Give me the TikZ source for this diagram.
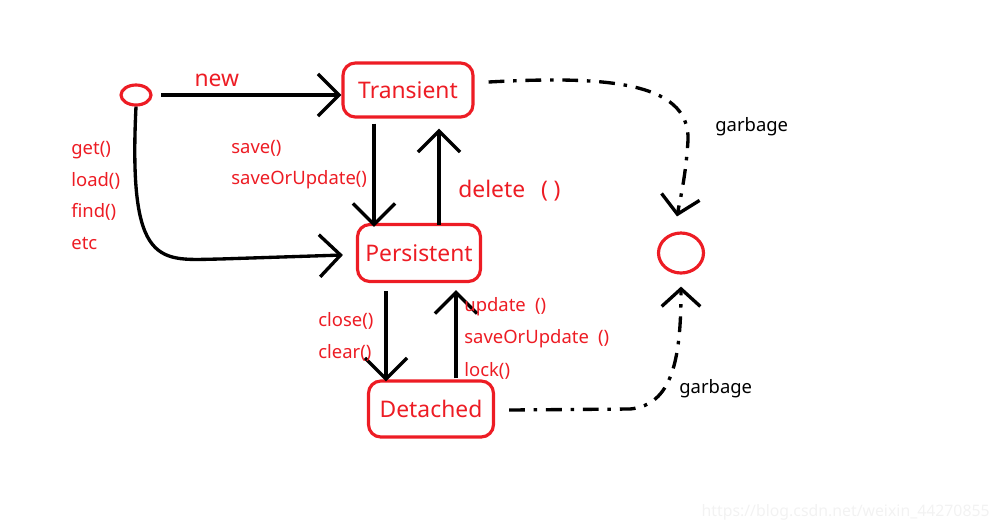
\documentclass[tikz,border=0pt]{standalone}
\usepackage{fontspec}
\setmainfont{Noto Sans}
\usetikzlibrary{positioning,calc,arrows.meta,shapes.geometric}
\definecolor{paintred}{RGB}{237,28,36}

\begin{document}
\begin{tikzpicture}[x=0.02cm,y=-0.02cm,
  state/.style ={draw=paintred,line width=1.8pt,rounded corners=7pt,text=paintred,
                 inner sep=0pt,font=\fontsize{13}{15}\selectfont},
  dot/.style   ={draw=paintred,line width=1.8pt,ellipse,inner sep=0pt},
  lbl/.style   ={text=paintred,anchor=west,inner sep=0pt,font=\fontsize{10.5}{12}\selectfont},
  note/.style  ={anchor=west,inner sep=0pt,font=\fontsize{10.5}{12}\selectfont},
  flow/.style  ={line width=1.9pt,-{Straight Barb[length=12pt,width=24pt]}},
  gc/.style    ={line width=1.9pt,dash pattern=on 9pt off 5pt on 2pt off 5pt,
                 -{Straight Barb[length=10pt,width=22pt]}}
]
  \useasboundingbox (0,0) rectangle (1000,529);

  % ----- states -----
  \node[dot,minimum width=0.6cm,minimum height=0.4cm] (start) at (136,95) {};
  \node[state,minimum width=2.6cm,minimum height=1.08cm] (trans) at (408,90) {Transient};
  \node[state,minimum width=2.46cm,minimum height=1.14cm] (pers) at (419,253) {Persistent};
  \node[state,minimum width=2.5cm,minimum height=1.12cm] (det) at (431,409) {Detached};
  \node[dot,minimum width=0.9cm,minimum height=0.8cm] (end) at (681,253) {};

  % ----- transitions -----
  \draw[flow,shorten <=5pt] (start.east) -- (start.east -| trans.west)
    node[lbl,pos=0.34,above=4pt,font=\fontsize{13}{15}\selectfont] {new};
  \draw[flow] (start.south) .. controls (128,270) and (160,260) .. (220,259)
    -- ($(pers.west)+(-13,2)$);
  \draw[flow] ($(trans.south)+(-34,5)$) -- ($(pers.north)+(-45,4)$);
  \draw[flow] ($(pers.north)+(20,2)$) -- ($(trans.south)+(31,10)$);
  \draw[flow] ($(pers.south)+(-33,8)$) -- ($(det.north)+(-45,2)$);
  \draw[flow] ($(det.north)+(25,-1)$) -- ($(pers.south)+(37,7)$);

  % ----- garbage -----
  \draw[gc] ($(trans.east)+(14,-8)$) .. controls (600,76) and (690,80) .. (688,140)
    .. controls (686,175) and (680,200) .. ($(end.north)+(-4,-15)$);
  \draw[gc] ($(det.east)+(14,1)$) -- (630,409) .. controls (672,405) and (681,360)
    .. ($(end.south)+(0,12)$);
  \node[note] (g1) at (715,127) {garbage};
  \node[note] (g2) at (679,389) {garbage};

  % ----- labels -----
  \node[lbl] (l1) at (71,150) {get()};
  \node[lbl] (l2) at (71,181) {load()};
  \node[lbl] (l3) at (71,212) {find()};
  \node[lbl] (l4) at (71,244) {etc};
  \node[lbl] (s1) at (231,148) {save()};
  \node[lbl] (s2) at (231,180) {saveOrUpdate()};
  \node[lbl,font=\fontsize{13}{15}\selectfont] (d1) at (458,191) {delete\hspace{0.7em}(\hspace{0.25em})};
  \node[lbl] (c1) at (318,321) {close()};
  \node[lbl] (c2) at (318,353) {clear()};
  \node[lbl] (u1) at (464,307) {update\hspace{0.5em}()};
  \node[lbl] (u2) at (464,339) {saveOrUpdate\hspace{0.5em}()};
  \node[lbl] (u3) at (464,371) {lock()};

  % watermark
  \node[anchor=east,inner sep=0pt,text=black!5,font=\fontsize{9}{11}\selectfont] (wm) at (990,512)
    {https://blog.csdn.net/weixin\_44270855};
\end{tikzpicture}
\end{document}
